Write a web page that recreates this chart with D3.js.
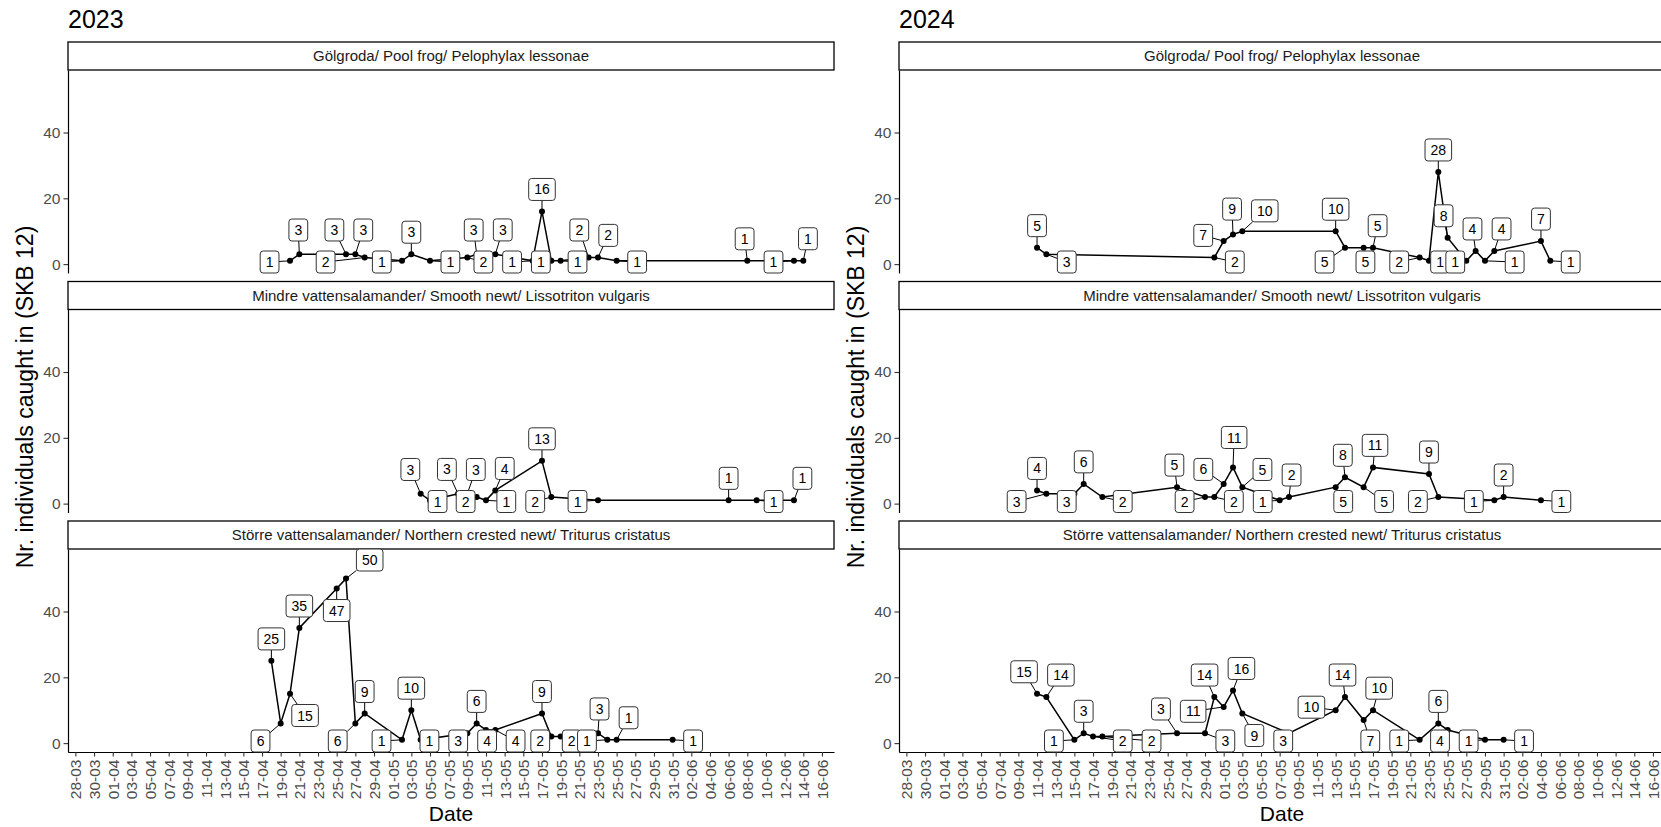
<!DOCTYPE html>
<html>
<head>
<meta charset="utf-8">
<script src="https://cdn.jsdelivr.net/npm/d3@7"></script>
<style>
  body { margin: 0; background: #fff; }
  svg { font-family: "Liberation Sans", Arial, sans-serif; }
</style>
</head>
<body>
<div class="canvas"></div>
<script>
// ---- data ----
const years = [2023, 2024];
const speciesNames = [
  'Gölgroda/ Pool frog/ Pelophylax lessonae',
  'Mindre vattensalamander/ Smooth newt/ Lissotriton vulgaris',
  'Större vattensalamander/ Northern crested newt/ Triturus cristatus'
];
const tickLabels = ['28-03','30-03','01-04','03-04','05-04','07-04','09-04','11-04','13-04','15-04',
  '17-04','19-04','21-04','23-04','25-04','27-04','29-04','01-05','03-05','05-05','07-05','09-05',
  '11-05','13-05','15-05','17-05','19-05','21-05','23-05','25-05','27-05','29-05','31-05','02-06',
  '04-06','06-06','08-06','10-06','12-06','14-06','16-06'];
const yTicks = [0, 20, 40];

// 2023
const frog2023Dates = ['20-04','21-04','26-04','27-04','28-04','02-05','03-05','05-05','09-05','10-05',
  '12-05','16-05','17-05','18-05','19-05','22-05','23-05','25-05','08-06','13-06','14-06'];
const frog2023Counts = [1,3,3,3,2,1,3,1,2,3,3,1,16,1,1,2,2,1,1,1,1];
const newt2023Dates = ['04-05','05-05','08-05','09-05','10-05','11-05','12-05','17-05','18-05','23-05',
  '06-06','09-06','13-06'];
const newt2023Counts = [3,1,3,3,2,1,4,13,2,1,1,1,1];
const crest2023Dates = ['18-04','19-04','20-04','21-04','25-04','26-04','27-04','28-04','02-05','03-05',
  '04-05','09-05','10-05','11-05','12-05','17-05','18-05','19-05','23-05','24-05','25-05','31-05'];
const crest2023Counts = [25,6,15,35,47,50,6,9,1,10,1,3,6,4,4,9,2,2,3,1,1,1];

// 2024
const frog2024Dates = ['11-04','12-04','30-04','01-05','02-05','03-05','13-05','14-05','16-05','17-05',
  '22-05','23-05','24-05','25-05','27-05','28-05','29-05','30-05','04-06','05-06'];
const frog2024Counts = [5,3,2,7,9,10,10,5,5,5,2,1,28,8,1,4,1,4,7,1];
const newt2024Dates = ['11-04','12-04','15-04','16-04','18-04','26-04','29-04','30-04','01-05','02-05',
  '03-05','07-05','08-05','13-05','14-05','16-05','17-05','23-05','24-05','30-05','31-05','04-06'];
const newt2024Counts = [4,3,3,6,2,5,2,2,6,11,5,1,2,5,8,5,11,9,2,1,2,1];
const crest2024Dates = ['11-04','12-04','15-04','16-04','17-04','18-04','26-04','29-04','30-04','01-05',
  '02-05','03-05','08-05','13-05','14-05','16-05','17-05','22-05','24-05','25-05','29-05','31-05'];
const crest2024Counts = [15,14,1,3,2,2,3,3,14,11,16,9,3,10,14,7,10,1,6,4,1,1];

const seriesByYear = {
  2023: [[frog2023Dates, frog2023Counts], [newt2023Dates, newt2023Counts], [crest2023Dates, crest2023Counts]],
  2024: [[frog2024Dates, frog2024Counts], [newt2024Dates, newt2024Counts], [crest2024Dates, crest2024Counts]]
};

// ---- layout ----
const width = 1661, height = 827;
const panelX = [68, 899];
const panelW = 766, stripH = 28, panelH = 203, facetGap = 8.5, topY = 42;
const axisGrey = '#4d4d4d';

const svg = d3.select('.canvas')
  .append('svg')
  .attr('width', width)
  .attr('height', height);

svg.append('rect').attr('width', width).attr('height', height).attr('fill', '#fff');

const parseDM = (s, yr) => d3.timeParse('%d-%m-%Y')(`${s}-${yr}`);
const clamp = (v, lo, hi) => Math.max(lo, Math.min(hi, v));

// ggrepel-like label placement; directions worked out in panel-normalised units
function repel(labels, pts) {
  const boxPad = 5, ptR = 6, iters = 4000;
  const ratio = panelW / panelH;
  const push = (d, ax, ay) => {
    const ux = (d.x - ax) / panelW, uy = (d.y - ay) / panelH;
    const len = Math.hypot(ux, uy) || 1e-6;
    return [ux / len * ratio * 0.5, uy / len];
  };
  // start each label a little away from its neighbours on the line
  labels.forEach((d, i) => {
    const nb = [labels[i - 1], labels[i + 1]].filter(Boolean);
    let ux = d.px - d3.mean(nb, n => n.px), uy = d.py - d3.mean(nb, n => n.py);
    ux /= panelW; uy /= panelH;
    let len = Math.hypot(ux, uy);
    if (Math.abs(uy) < 1e-4) {
      const a = i * 2.39996;
      ux = Math.cos(a); uy = Math.sin(a); len = 1;
    }
    d.x = d.px + ux / len * 2;
    d.y = d.py + uy / len * 2;
    d.vx = 0; d.vy = 0;
  });
  for (let it = 0; it < iters; it++) {
    const cool = 1 - 0.9 * it / iters;
    labels.forEach(d => {
      let fx = 0, fy = 0;
      const hw = d.w / 2 + boxPad, hh = d.h / 2 + boxPad;
      pts.forEach(p => {
        const nx = clamp(p.x, d.x - hw, d.x + hw);
        const ny = clamp(p.y, d.y - hh, d.y + hh);
        if ((p.x - nx) ** 2 + (p.y - ny) ** 2 < ptR * ptR) {
          const [a, b] = push(d, p.x, p.y);
          fx += a; fy += b;
        }
      });
      labels.forEach(o => {
        if (o === d) return;
        const ox = (d.w + o.w) / 2 + 2 * boxPad - Math.abs(d.x - o.x);
        const oy = (d.h + o.h) / 2 + 2 * boxPad - Math.abs(d.y - o.y);
        if (ox > 0 && oy > 0) {
          const [a, b] = push(d, o.x, o.y);
          fx += a; fy += b;
        }
      });
      fx += (d.px - d.x) * 0.016;
      fy += (d.py - d.y) * 0.016;
      d.vx = (d.vx + fx * cool) * 0.6;
      d.vy = (d.vy + fy * cool) * 0.6;
    });
    labels.forEach(d => {
      d.x = clamp(d.x + d.vx, d.w / 2, panelW - d.w / 2);
      d.y = clamp(d.y + d.vy, d.h / 2, panelH - d.h / 2);
    });
  }
}

years.forEach((yr, yi) => {
  const x = d3.scaleTime()
    .domain([d3.timeHour.offset(parseDM('28-03', yr), -19), d3.timeHour.offset(parseDM('16-06', yr), 31)])
    .range([0, panelW]);
  const y = d3.scaleLinear().domain([-2.7, 59]).range([panelH, 0]);

  const yearG = svg.append('g').attr('transform', `translate(${panelX[yi]},0)`);

  yearG.append('text')
    .attr('x', 0).attr('y', 28)
    .attr('font-size', 25)
    .attr('fill', '#000')
    .text(yr);

  // y axis title
  yearG.append('text')
    .attr('transform', `translate(-35, ${(topY + 3 * (stripH + panelH) + 2 * facetGap + topY) / 2}) rotate(-90)`)
    .attr('text-anchor', 'middle')
    .attr('font-size', 23)
    .text('Nr. individuals caught in (SKB 12)');

  speciesNames.forEach((name, si) => {
    const fy = topY + si * (stripH + panelH + facetGap);
    const facet = yearG.append('g').attr('transform', `translate(0, ${fy})`);

    // strip
    facet.append('rect')
      .attr('x', 0).attr('y', 0)
      .attr('width', panelW).attr('height', stripH)
      .attr('fill', '#fff').attr('stroke', '#000').attr('stroke-width', 1.3);
    facet.append('text')
      .attr('x', panelW / 2).attr('y', stripH / 2 + 5)
      .attr('text-anchor', 'middle')
      .attr('font-size', 15)
      .attr('fill', '#1a1a1a')
      .text(name);

    const plot = facet.append('g').attr('transform', `translate(0, ${stripH})`);

    // y axis
    const yAxisG = plot.append('g')
      .call(d3.axisLeft(y).tickValues(yTicks).tickSize(4.5).tickSizeOuter(0).tickPadding(3));
    yAxisG.select('.domain').attr('stroke', '#000').attr('stroke-width', 1.2);
    yAxisG.selectAll('.tick line').attr('stroke', '#333').attr('stroke-width', 1.1);
    yAxisG.selectAll('.tick text')
      .attr('fill', axisGrey).attr('font-size', 15.5)
      .attr('font-family', '"Liberation Sans", Arial, sans-serif');

    // x axis on bottom facet only
    if (si === speciesNames.length - 1) {
      const xAxisG = plot.append('g')
        .attr('transform', `translate(0, ${panelH})`)
        .call(d3.axisBottom(x)
          .tickValues(tickLabels.map(t => parseDM(t, yr)))
          .tickFormat(d3.timeFormat('%d-%m'))
          .tickSize(4.5).tickSizeOuter(0));
      xAxisG.select('.domain').attr('stroke', '#000').attr('stroke-width', 1.2);
      xAxisG.selectAll('.tick line').attr('stroke', '#333').attr('stroke-width', 1.1);
      xAxisG.selectAll('.tick text')
        .attr('fill', axisGrey).attr('font-size', 15.5)
        .attr('font-family', '"Liberation Sans", Arial, sans-serif')
        .attr('text-anchor', 'end')
        .attr('transform', 'rotate(-90)')
        .attr('x', -7.5).attr('y', 0).attr('dy', '0.35em');

      plot.append('text')
        .attr('x', panelW / 2).attr('y', panelH + 69)
        .attr('text-anchor', 'middle')
        .attr('font-size', 21)
        .text('Date');
    }

    // data
    const [dates, counts] = seriesByYear[yr][si];
    const data = dates.map((d, i) => ({ date: parseDM(d, yr), count: counts[i] }));

    const line = d3.line().x(d => x(d.date)).y(d => y(d.count));
    plot.append('path')
      .datum(data)
      .attr('d', line)
      .attr('fill', 'none')
      .attr('stroke', '#000')
      .attr('stroke-width', 1.5);

    plot.selectAll('circle')
      .data(data)
      .enter()
      .append('circle')
        .attr('cx', d => x(d.date))
        .attr('cy', d => y(d.count))
        .attr('r', 3)
        .attr('fill', '#000');

    // labels: measure text first
    const labelG = plot.append('g');
    const labels = data.map(d => ({ px: x(d.date), py: y(d.count), text: String(d.count) }));
    const meas = labelG.append('text').attr('font-size', 14);
    labels.forEach(l => {
      meas.text(l.text);
      l.w = meas.node().getComputedTextLength() + 11;
      l.h = 22;
    });
    meas.remove();

    repel(labels, labels.map(l => ({ x: l.px, y: l.py })));

    // segments
    labels.forEach(l => {
      const dx = l.px - l.x, dy = l.py - l.y;
      if (Math.abs(dx) <= l.w / 2 && Math.abs(dy) <= l.h / 2) return;
      const t = Math.min(dx ? (l.w / 2) / Math.abs(dx) : Infinity, dy ? (l.h / 2) / Math.abs(dy) : Infinity);
      const ex = l.x + dx * t, ey = l.y + dy * t;
      if (Math.hypot(l.px - ex, l.py - ey) < 4) return;
      labelG.append('line')
        .attr('x1', l.px).attr('y1', l.py)
        .attr('x2', ex).attr('y2', ey)
        .attr('stroke', '#000').attr('stroke-width', 1);
    });

    // label boxes
    const lab = labelG.selectAll('g.lab')
      .data(labels)
      .enter()
      .append('g')
        .attr('class', 'lab')
        .attr('transform', d => `translate(${d.x}, ${d.y})`);
    lab.append('rect')
      .attr('x', d => -d.w / 2).attr('y', d => -d.h / 2)
      .attr('width', d => d.w).attr('height', d => d.h)
      .attr('rx', 3).attr('ry', 3)
      .attr('fill', '#fff').attr('stroke', '#333').attr('stroke-width', 1);
    lab.append('text')
      .attr('text-anchor', 'middle')
      .attr('dy', '0.36em')
      .attr('font-size', 14)
      .attr('fill', '#000')
      .text(d => d.text);
  });
});
</script>
</body>
</html>
